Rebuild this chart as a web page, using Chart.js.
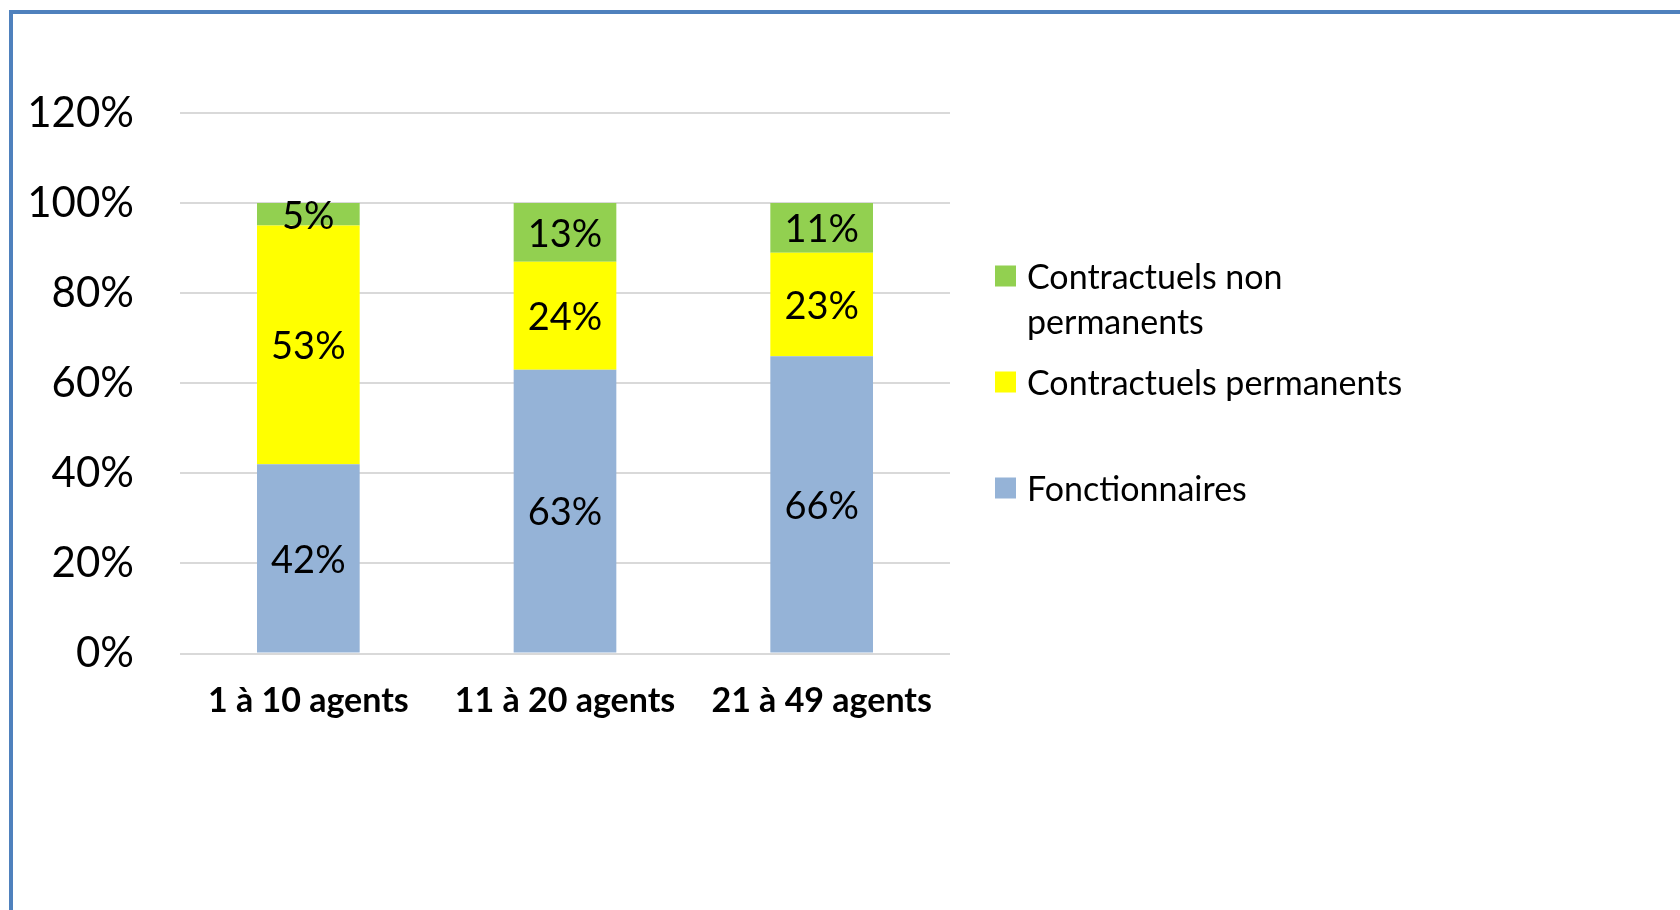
<!DOCTYPE html>
<html>
<head>
<meta charset="utf-8">
<script src="https://cdn.jsdelivr.net/npm/chart.js@4"></script>
<style>
    html, body { margin: 0; padding: 0; background: #fff; }
    .frame {
        position: absolute; left: 9px; top: 10px; width: 1700px; height: 940px;
        border-top: 4px solid #4f81bd; border-left: 4px solid #4f81bd;
    }
    #chart { position: absolute; left: 0; top: 0; }
</style>
</head>
<body>
<div class="frame"></div>
<canvas id="chart" width="1680" height="910"></canvas>
<script>
const categories = ['1 à 10 agents', '11 à 20 agents', '21 à 49 agents'];
const fonctionnaires = [0.42, 0.63, 0.66];
const contractuelsPermanents = [0.53, 0.24, 0.23];
const contractuelsNonPermanents = [0.05, 0.13, 0.11];
const seriesNames = ['Fonctionnaires', 'Contractuels permanents', 'Contractuels non permanents'];
const seriesColors = ['#95b3d7', '#ffff00', '#92d050'];

const FONT = 'Lato, Carlito, Calibri, sans-serif';

// labels centred in each stacked segment
const segmentLabels = {
    id: 'segmentLabels',
    afterDatasetsDraw(chart) {
        const ctx = chart.ctx;
        ctx.save();
        ctx.font = '38px ' + FONT;
        ctx.fillStyle = '#000';
        ctx.textAlign = 'center';
        ctx.textBaseline = 'middle';
        chart.data.datasets.forEach((ds, i) => {
            chart.getDatasetMeta(i).data.forEach((bar, j) => {
                const v = ds.data[j];
                ctx.fillText(Math.round(v * 100) + '%', bar.x, (bar.y + bar.base) / 2 + 2);
            });
        });
        ctx.restore();
    }
};

// legend on the right, top item = top of the stack
const sideLegend = {
    id: 'sideLegend',
    afterDraw(chart) {
        const ctx = chart.ctx;
        const rows = [276, 382, 488];
        const boxX = 995, boxSize = 21, textX = 1027, lineH = 45, maxW = 400;
        ctx.save();
        ctx.font = '34px ' + FONT;
        ctx.textAlign = 'left';
        ctx.textBaseline = 'middle';
        const order = chart.data.datasets.map((d, i) => i).reverse();
        order.forEach((dsIndex, k) => {
            const ds = chart.data.datasets[dsIndex];
            const y = rows[k];
            ctx.fillStyle = ds.backgroundColor;
            ctx.fillRect(boxX, y - boxSize / 2, boxSize, boxSize);
            ctx.fillStyle = '#000';
            const words = ds.label.split(' ');
            let lines = [], cur = '';
            words.forEach(w => {
                const test = cur ? cur + ' ' + w : w;
                if (ctx.measureText(test).width > maxW && cur) {
                    lines.push(cur);
                    cur = w;
                } else {
                    cur = test;
                }
            });
            lines.push(cur);
            lines.forEach((l, n) => ctx.fillText(l, textX, y + 2 + n * lineH));
        });
        ctx.restore();
    }
};

new Chart(document.getElementById('chart'), {
    type: 'bar',
    data: {
        labels: categories,
        datasets: [
            {label: seriesNames[0], data: fonctionnaires, backgroundColor: seriesColors[0]},
            {label: seriesNames[1], data: contractuelsPermanents, backgroundColor: seriesColors[1]},
            {label: seriesNames[2], data: contractuelsNonPermanents, backgroundColor: seriesColors[2]},
        ]
    },
    options: {
        responsive: false,
        animation: false,
        layout: {
            padding: {left: 0, top: 113, right: 730, bottom: 0}
        },
        datasets: {
            bar: {barPercentage: 0.4, categoryPercentage: 1, borderWidth: 0}
        },
        plugins: {
            legend: {display: false},
            tooltip: {enabled: false},
        },
        scales: {
            x: {
                stacked: true,
                grid: {display: false, drawTicks: false},
                border: {display: false},
                ticks: {
                    color: '#000',
                    padding: 27,
                    font: {family: FONT, size: 34, weight: 'bold'},
                    maxRotation: 0,
                },
                afterFit(scale) { scale.height = 910 - 653.5; }
            },
            y: {
                stacked: true,
                min: 0,
                max: 1.2,
                grid: {color: '#d9d9d9', lineWidth: 2, drawTicks: false},
                border: {display: false},
                ticks: {
                    stepSize: 0.2,
                    color: '#000',
                    padding: 46,
                    font: {family: FONT, size: 42},
                    callback: v => Math.round(v * 100) + '%',
                },
                afterFit(scale) { scale.width = 180; }
            }
        }
    },
    plugins: [segmentLabels, sideLegend]
});
</script>
</body>
</html>
